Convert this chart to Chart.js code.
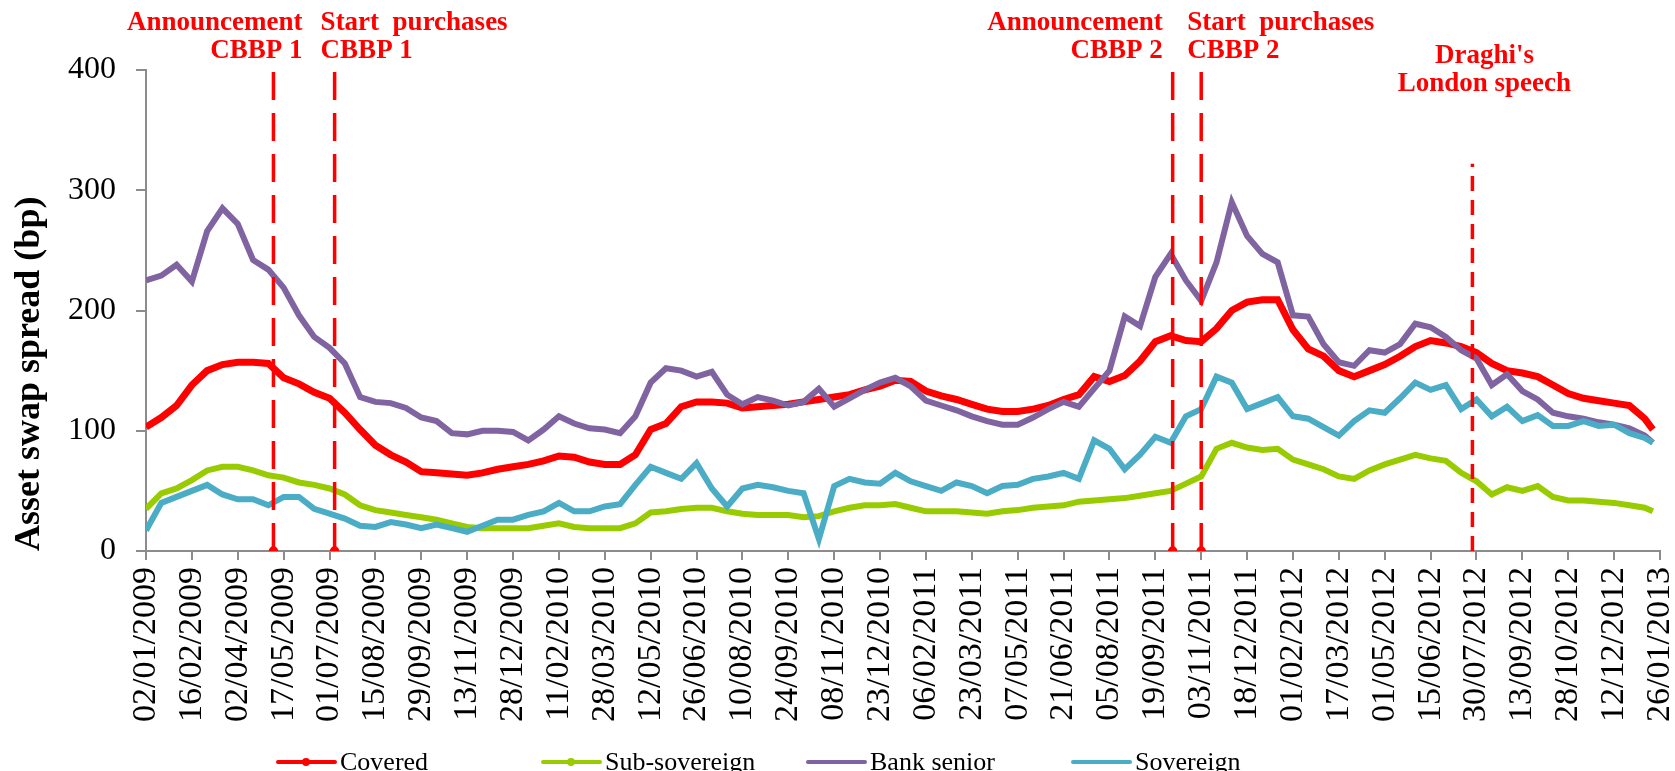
<!DOCTYPE html>
<html>
<head>
<meta charset="utf-8">
<title>Asset swap spreads</title>
<script src="https://cdn.jsdelivr.net/npm/chart.js@4.4.0/dist/chart.umd.min.js"></script>
<style>
    html, body { margin: 0; padding: 0; background: #fff; }
    #wrap { width: 1675px; height: 771px; position: relative; }
</style>
</head>
<body>
<div id="wrap"><canvas id="spreadChart"></canvas></div>
<script>
// tick labels, one every 45 days from 02/01/2009
var tickLabels = [
    '02/01/2009', '16/02/2009', '02/04/2009', '17/05/2009', '01/07/2009', '15/08/2009',
    '29/09/2009', '13/11/2009', '28/12/2009', '11/02/2010', '28/03/2010', '12/05/2010',
    '26/06/2010', '10/08/2010', '24/09/2010', '08/11/2010', '23/12/2010', '06/02/2011',
    '23/03/2011', '07/05/2011', '21/06/2011', '05/08/2011', '19/09/2011', '03/11/2011',
    '18/12/2011', '01/02/2012', '17/03/2012', '01/05/2012', '15/06/2012', '30/07/2012',
    '13/09/2012', '28/10/2012', '12/12/2012', '26/01/2013'
];

// days since 02/01/2009 of each sample
var sampleDays = [
    0, 15, 30, 45, 60, 75, 90, 105, 120, 135,
    150, 165, 180, 195, 210, 225, 240, 255, 270, 285,
    300, 315, 330, 345, 360, 375, 390, 405, 420, 435,
    450, 465, 480, 495, 510, 525, 540, 555, 570, 585,
    600, 615, 630, 645, 660, 675, 690, 705, 720, 735,
    750, 765, 780, 795, 810, 825, 840, 855, 870, 885,
    900, 915, 930, 945, 960, 975, 990, 1005, 1020, 1035,
    1050, 1065, 1080, 1095, 1110, 1125, 1140, 1155, 1170, 1185,
    1200, 1215, 1230, 1245, 1260, 1275, 1290, 1305, 1320, 1335,
    1350, 1365, 1380, 1395, 1410, 1425, 1440, 1455, 1470, 1478
];

var covered = [
    103, 111, 121, 138, 150, 155, 157, 157, 156, 144,
    139, 132, 127, 115, 101, 88, 80, 74, 66, 65,
    64, 63, 65, 68, 70, 72, 75, 79, 78, 74,
    72, 72, 80, 101, 106, 120, 124, 124, 123, 119,
    120, 121, 122, 124, 126, 128, 130, 134, 137, 142,
    141, 133, 129, 126, 122, 118, 116, 116, 118, 121,
    126, 130, 145, 141, 146, 158, 174, 179, 175, 174,
    185, 200, 207, 209, 209, 184, 168, 162, 150, 145,
    150, 155, 162, 170, 175, 173, 170, 165, 156, 150,
    148, 145, 138, 131, 127, 125, 123, 121, 110, 101
];

var subSovereign = [
    35, 48, 52, 59, 67, 70, 70, 67, 63, 61,
    57, 55, 52, 47, 38, 34, 32, 30, 28, 26,
    23, 20, 19, 19, 19, 19, 21, 23, 20, 19,
    19, 19, 23, 32, 33, 35, 36, 36, 33, 31,
    30, 30, 30, 28, 29, 33, 36, 38, 38, 39,
    36, 33, 33, 33, 32, 31, 33, 34, 36, 37,
    38, 41, 42, 43, 44, 46, 48, 50, 56, 62,
    85, 90, 86, 84, 85, 76, 72, 68, 62, 60,
    67, 72, 76, 80, 77, 75, 65, 58, 47, 53,
    50, 54, 45, 42, 42, 41, 40, 38, 36, 33
];

var bankSenior = [
    225, 229, 238, 224, 266, 285, 272, 242, 234, 219,
    196, 178, 169, 156, 128, 124, 123, 119, 111, 108,
    98, 97, 100, 100, 99, 92, 101, 112, 106, 102,
    101, 98, 112, 140, 152, 150, 145, 149, 130, 122,
    128, 125, 121, 124, 135, 120, 127, 134, 140, 144,
    137, 125, 121, 117, 112, 108, 105, 105, 111, 118,
    124, 120, 135, 150, 195, 187, 228, 247, 225, 208,
    240, 290, 262, 247, 240, 196, 195, 172, 157, 154,
    167, 165, 172, 189, 186, 178, 167, 160, 138, 147,
    133, 126, 115, 112, 110, 107, 105, 102, 96, 90
];

var sovereign = [
    17, 40, 45, 50, 55, 47, 43, 43, 38, 45,
    45, 35, 31, 27, 21, 20, 24, 22, 19, 22,
    19, 16, 21, 26, 26, 30, 33, 40, 33, 33,
    37, 39, 55, 70, 65, 60, 73, 52, 37, 52,
    55, 53, 50, 48, 10, 54, 60, 57, 56, 65,
    58, 54, 50, 57, 54, 48, 54, 55, 60, 62,
    65, 60, 92, 85, 68, 80, 95, 90, 112, 118,
    145, 140, 118, 123, 128, 112, 110, 103, 96, 108,
    117, 115, 127, 140, 134, 138, 118, 126, 112, 120,
    108, 113, 104, 104, 108, 104, 105, 98, 94, 90
];

var seriesNames = ['Covered', 'Sub-sovereign', 'Bank senior', 'Sovereign'];
var seriesColors = ['#ff0000', '#99cc00', '#8064a2', '#4bacc6'];

// event dates (days since 02/01/2009) and how high each marker line goes
var eventDays = [125, 185, 1007, 1035, 1301];
var eventTops = [400, 400, 400, 400, 322];
var eventTexts = [
    ['Announcement', 'CBBP 1'],
    ['Start  purchases', 'CBBP 1'],
    ['Announcement', 'CBBP 2'],
    ['Start  purchases', 'CBBP 2'],
    ["Draghi's", 'London speech']
];

// placement of the event captions
var eventTextStyle = [
    { align: 'right', dx: 29, y: [23, 51] },
    { align: 'left', dx: -14, y: [23, 51] },
    { align: 'right', dx: -10, y: [23, 51] },
    { align: 'left', dx: -14, y: [23, 51] },
    { align: 'center', dx: 12, y: [56, 84] }
];

var axisGrey = '#8c8c8c';
var serif = '"Liberation Serif", "Times New Roman", serif';

var eventCaptions = {
    id: 'eventCaptions',
    afterDraw: function(chart) {
        var ctx = chart.ctx;
        var xs = chart.scales.x;
        ctx.save();
        ctx.fillStyle = '#ff0000';
        ctx.font = 'bold 27px ' + serif;
        ctx.textBaseline = 'middle';
        eventDays.forEach(function(d, i) {
            var st = eventTextStyle[i];
            var px = xs.getPixelForValue(d) + st.dx;
            ctx.textAlign = st.align;
            eventTexts[i].forEach(function(line, j) {
                ctx.fillText(line, px, st.y[j]);
            });
        });
        ctx.restore();
    }
};

// excel style legend: equal width slots
var bottomLegend = {
    id: 'bottomLegend',
    afterDraw: function(chart) {
        var ctx = chart.ctx;
        var x = 278, y = 762, slot = 265;
        ctx.save();
        ctx.font = '26px ' + serif;
        ctx.textBaseline = 'middle';
        ctx.textAlign = 'left';
        seriesNames.forEach(function(name, i) {
            var lx = x + i * slot;
            ctx.strokeStyle = seriesColors[i];
            ctx.lineWidth = 4;
            ctx.lineCap = 'round';
            ctx.beginPath();
            ctx.moveTo(lx, y);
            ctx.lineTo(lx + 57, y);
            ctx.stroke();
            if (i < 2) {
                ctx.fillStyle = seriesColors[i];
                ctx.beginPath();
                ctx.arc(lx + 28, y, 4, 0, Math.PI * 2);
                ctx.fill();
            }
            ctx.fillStyle = '#000';
            ctx.fillText(name, lx + 62, y + 1);
        });
        ctx.restore();
    }
};

var toPoints = function(values) {
    return values.map(function(v, i) { return { x: sampleDays[i], y: v }; });
};

var datasets = [];
var seriesValues = [covered, subSovereign, bankSenior, sovereign];
seriesValues.forEach(function(vals, i) {
    datasets.push({
        label: seriesNames[i],
        data: toPoints(vals),
        borderColor: seriesColors[i],
        backgroundColor: seriesColors[i],
        borderWidth: i === 0 ? 7 : 6,
        pointRadius: 0,
        tension: 0,
        order: 4 - i
    });
});

eventDays.forEach(function(d, i) {
    var last = i === eventDays.length - 1;
    datasets.push({
        label: 'event' + i,
        data: [{ x: d, y: 0 }, { x: d, y: eventTops[i] }],
        borderColor: '#ff0000',
        backgroundColor: '#ff0000',
        borderWidth: 3.5,
        borderDash: last ? [15, 9] : [28, 13],
        pointRadius: last ? 0 : [3, 0],
        order: 0
    });
});

new Chart(document.getElementById('spreadChart'), {
    type: 'line',
    data: { datasets: datasets },
    options: {
        responsive: true,
        maintainAspectRatio: false,
        animation: false,
        layout: { padding: { top: 70, left: 0, right: 0, bottom: 35 } },
        plugins: {
            legend: { display: false },
            tooltip: { enabled: false }
        },
        scales: {
            x: {
                type: 'linear',
                min: 0,
                max: 1485,
                afterFit: function(scale) {
                    scale.height = 185;
                    scale.paddingLeft = 0;
                    scale.paddingRight = 15;
                },
                grid: { drawOnChartArea: false, tickLength: 9, color: axisGrey, lineWidth: 2 },
                border: { color: axisGrey, width: 2 },
                ticks: {
                    stepSize: 45,
                    autoSkip: false,
                    maxRotation: 90,
                    minRotation: 90,
                    padding: 7,
                    color: '#000',
                    font: { family: serif, size: 34, lineHeight: 0.8 },
                    callback: function(value, index) { return tickLabels[index]; }
                }
            },
            y: {
                min: 0,
                max: 400,
                afterFit: function(scale) {
                    scale.width = 146;
                },
                grid: { drawOnChartArea: false, tickLength: 10, color: axisGrey, lineWidth: 2 },
                border: { color: axisGrey, width: 2 },
                ticks: {
                    stepSize: 100,
                    padding: 20,
                    color: '#000',
                    font: { family: serif, size: 32 }
                },
                title: {
                    display: true,
                    text: 'Asset swap spread (bp)',
                    align: 'start',
                    color: '#000',
                    padding: { top: 8, bottom: 4 },
                    font: { family: serif, size: 36, weight: 'bold' }
                }
            }
        }
    },
    plugins: [eventCaptions, bottomLegend]
});
</script>
</body>
</html>
